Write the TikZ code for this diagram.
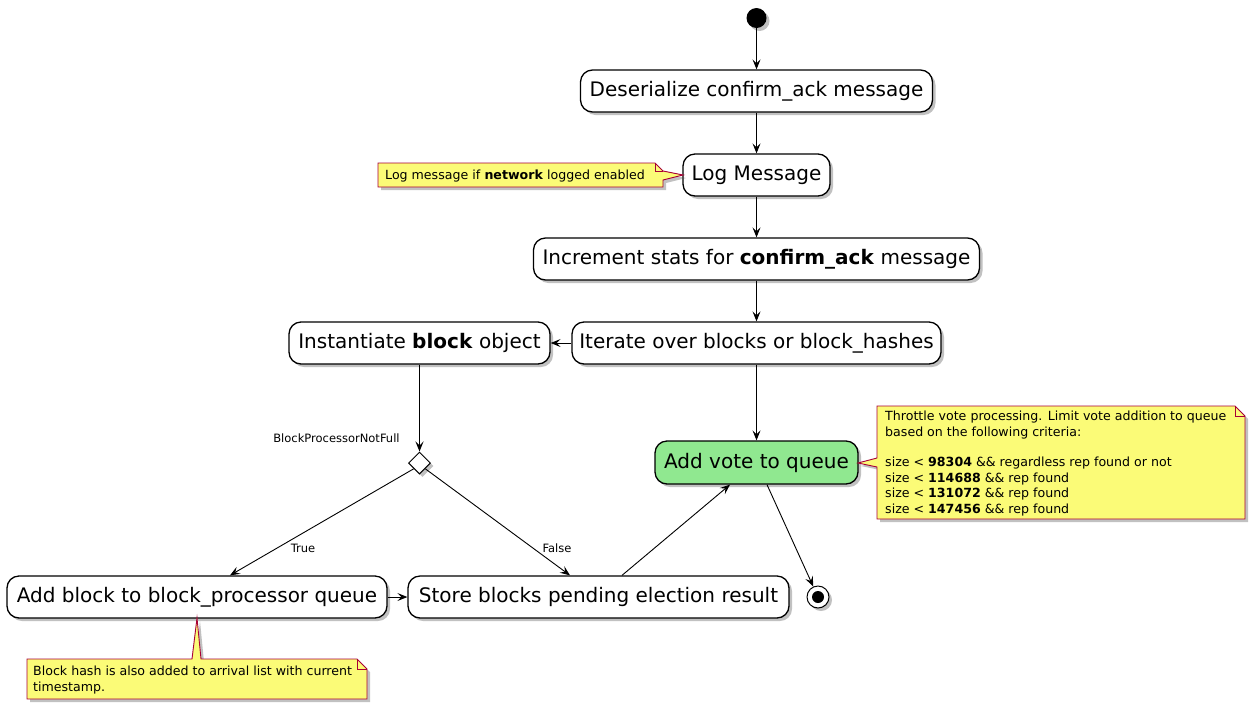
\documentclass[tikz,border=0pt]{standalone}
\usepackage{fontspec}
\setmainfont{DejaVu Sans}
\usetikzlibrary{shapes.geometric,shadows,arrows.meta}
\definecolor{notefill}{HTML}{FBFB77}
\definecolor{noteline}{HTML}{A80036}
\definecolor{votegreen}{HTML}{90E890}
\tikzset{
  shad/.style={drop shadow={shadow xshift=3pt,shadow yshift=-3pt,opacity=0.35,fill=black!70}},
  act/.style={draw=black,line width=1.3pt,rounded corners=12pt,fill=white,shad,
    minimum height=42pt,inner sep=0pt,font=\fontsize{20}{24}\selectfont},
  conn/.style={line width=0.9pt,-{Stealth[length=10pt,width=8pt,inset=4pt]}},
  notebox/.style={fill=notefill,draw=noteline,line width=0.9pt,shad},
  notetxt/.style={inner sep=0pt,align=left,font=\fontsize{12.6}{15.4}\selectfont},
  lbl/.style={inner sep=0pt,font=\fontsize{11.5}{13}\selectfont}
}
\begin{document}
\begin{tikzpicture}[x=1pt,y=-1pt]
\useasboundingbox (0,0) rectangle (1255,710);
% start
\node[circle,fill=black,minimum size=20pt,inner sep=0pt,shad] (start) at (756.5,18) {};
% activities
\node[act,minimum width=352pt] (deser) at (756.5,91) {Deserialize confirm\_ack message};
\node[act,minimum width=147pt] (log) at (756.5,175) {Log Message};
\node[act,minimum width=446pt] (incr) at (756.5,259) {Increment stats for \textbf{confirm\_ack} message};
\node[act,minimum width=369pt] (iter) at (756.5,343) {Iterate over blocks or block\_hashes};
\node[act,minimum width=261pt] (inst) at (419.5,343) {Instantiate \textbf{block} object};
\node[diamond,draw=black,line width=1pt,fill=white,minimum width=22pt,minimum height=22pt,inner sep=0pt,shad] (dec) at (419.5,463) {};
\node[act,minimum width=203pt,minimum height=43pt,fill=votegreen] (vote) at (756.5,462.5) {Add vote to queue};
\node[act,minimum width=380pt] (addb) at (197,597) {Add block to block\_processor queue};
\node[act,minimum width=381pt] (store) at (598.5,597) {Store blocks pending election result};
% end
\node[circle,draw=black,line width=1pt,fill=white,minimum size=22pt,inner sep=0pt,shad] (end) at (818,597) {};
\node[circle,fill=black,minimum size=12pt,inner sep=0pt] (endin) at (end.center) {};
% connectors
\draw[conn] (start) -- (deser);
\draw[conn] (deser) -- (log);
\draw[conn] (log) -- (incr);
\draw[conn] (incr) -- (iter);
\draw[conn] (iter) -- (inst);
\draw[conn] (inst) -- (dec.north);
\draw[conn] (iter) -- (vote);
\draw[conn] (dec.south west) -- ([xshift=33pt]addb.north);
\draw[conn] (dec.south east) -- ([xshift=-28.5pt]store.north);
\draw[conn] (addb) -- (store);
\draw[conn] ([xshift=23.5pt]store.north) -- ([xshift=-26.5pt]vote.south);
\draw[conn] ([xshift=10.5pt]vote.south) -- (end);
% labels
\node[lbl] (lt) at (303,548) {True};
\node[lbl] (lf) at (557,548) {False};
\node[lbl] (lbp) at (336.5,438) {BlockProcessorNotFull};
% note left
\path[notebox] (378,163) -- (655,163) -- (663,171) -- (683,175) -- (663,180) -- (663,187) -- (378,187) -- cycle;
\draw[noteline,line width=0.9pt] (655,163) -- (655,171) -- (663,171);
\node[notetxt,anchor=base west] (n1) at (385,179) {Log message if \textbf{network} logged enabled};
% note right
\path[notebox] (877,406) -- (1235,406) -- (1245,416) -- (1245,519) -- (877,519) -- (877,467) -- (858,463) -- (877,458) -- cycle;
\draw[noteline,line width=0.9pt] (1235,406) -- (1235,416) -- (1245,416);
\node[notetxt,anchor=north west] (n2) at (885,411) {Throttle vote processing. Limit vote addition to queue\\based on the following criteria:\\[15.4pt]
size < \textbf{98304} \&\& regardless rep found or not\\
size < \textbf{114688} \&\& rep found\\
size < \textbf{131072} \&\& rep found\\
size < \textbf{147456} \&\& rep found};
% note bottom
\path[notebox] (27,659) -- (192,659) -- (197,618) -- (201,659) -- (357,659) -- (367,669) -- (367,699) -- (27,699) -- cycle;
\draw[noteline,line width=0.9pt] (357,659) -- (357,669) -- (367,669);
\node[notetxt,anchor=north west] (n3) at (33,666) {Block hash is also added to arrival list with current\\timestamp.};
\end{tikzpicture}
\end{document}
